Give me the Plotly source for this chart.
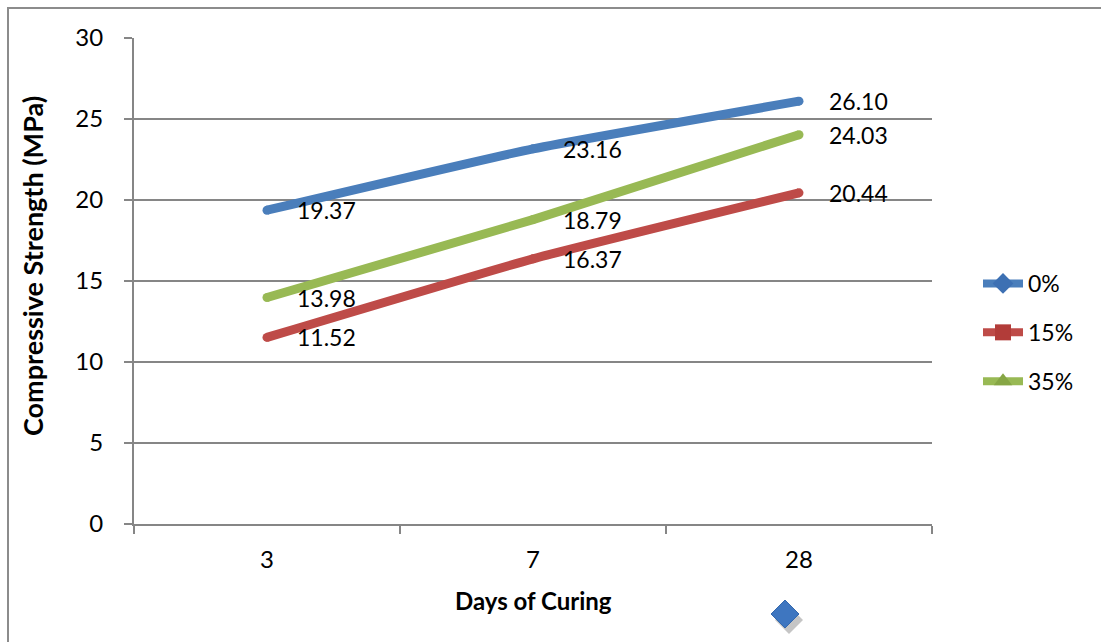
import plotly.graph_objects as go

# Curing ages (days) and compressive strength (MPa) per replacement level
days = ["3", "7", "28"]
series_names = ["0%", "15%", "35%"]
strength_0 = [19.37, 23.16, 26.10]
strength_15 = [11.52, 16.37, 20.44]
strength_35 = [13.98, 18.79, 24.03]
y_ticks = [0, 5, 10, 15, 20, 25, 30]

line_colors = ["#4A7EBB", "#BE4B48", "#98B954"]
marker_colors = ["#3D70B3", "#B23C39", "#86A645"]
symbols = ["diamond", "square", "triangle-up"]
all_series = [strength_0, strength_15, strength_35]

FONT = "Lato, 'Open Sans', sans-serif"
W, H = 1101, 642
M_L, M_R, M_T, M_B = 134, 169, 38, 118
PW, PH = W - M_L - M_R, H - M_T - M_B


def px_x(px):
    return (px - M_L) / PW


def px_y(py):
    return (H - M_B - py) / PH


fig = go.Figure()

for name, vals, lc in zip(series_names, all_series, line_colors):
    fig.add_trace(go.Scatter(
        x=days, y=vals, mode="lines+markers", name=name,
        line=dict(color=lc, width=9, shape="spline", smoothing=0.4),
        marker=dict(color=lc, size=9, symbol="circle"),
        showlegend=False, hoverinfo="skip",
    ))

# Legend entries: line with a series marker
for i, (name, lc, mc, sym) in enumerate(zip(series_names, line_colors, marker_colors, symbols)):
    fig.add_trace(go.Scatter(
        x=[None], y=[None], mode="lines+markers", name=name,
        legendgroup=f"g{i}",
        line=dict(color=lc, width=8),
        marker=dict(color=mc, size=16, symbol=sym),
    ))

# Value labels to the right of each point (category index positions)
annotations = []
for vals in all_series:
    for idx, v in enumerate(vals):
        annotations.append(dict(
            x=idx, y=v, xref="x", yref="y", text=f"{v:.2f}", showarrow=False,
            xanchor="left", yanchor="middle", xshift=28,
            font=dict(family=FONT, size=23, color="#000000"),
        ))

annotations.append(dict(
    x=px_x(533), y=px_y(600), xref="paper", yref="paper",
    text="<b>Days of Curing</b>", showarrow=False,
    xanchor="center", yanchor="middle",
    font=dict(family=FONT, size=24, color="#000000"),
))
annotations.append(dict(
    x=px_x(32), y=px_y(266), xref="paper", yref="paper",
    text="<b>Compressive Strength (MPa)</b>", showarrow=False, textangle=-90,
    xanchor="center", yanchor="middle",
    font=dict(family=FONT, size=27, color="#000000"),
))

# Outer chart frame and a stray diamond marker below the plot
shapes = [
    dict(type="rect", xref="paper", yref="paper",
         x0=px_x(8), y0=px_y(8), x1=px_x(1120), y1=px_y(660),
         line=dict(color="#8C8C8C", width=2), fillcolor="rgba(0,0,0,0)", layer="below"),
]
cx, cy, r = 785, 614, 14
sx, sy = 4, 6
shapes.append(dict(
    type="path", xref="paper", yref="paper",
    path=(f"M{px_x(cx + sx)},{px_y(cy + sy - r)} L{px_x(cx + sx + r)},{px_y(cy + sy)} "
          f"L{px_x(cx + sx)},{px_y(cy + sy + r)} L{px_x(cx + sx - r)},{px_y(cy + sy)} Z"),
    fillcolor="rgba(90,90,90,0.35)", line=dict(width=0),
))
shapes.append(dict(
    type="path", xref="paper", yref="paper",
    path=(f"M{px_x(cx)},{px_y(cy - r)} L{px_x(cx + r)},{px_y(cy)} "
          f"L{px_x(cx)},{px_y(cy + r)} L{px_x(cx - r)},{px_y(cy)} Z"),
    fillcolor="#3E76C0", line=dict(color="#3569AD", width=1),
))

fig.update_layout(
    width=W, height=H,
    margin=dict(l=M_L, r=M_R, t=M_T, b=M_B, pad=0),
    paper_bgcolor="#FFFFFF", plot_bgcolor="#FFFFFF",
    font=dict(family=FONT, size=23, color="#000000"),
    showlegend=True,
    legend=dict(
        x=px_x(978), y=px_y(262), xanchor="left", yanchor="top",
        font=dict(family=FONT, size=23, color="#000000"),
        tracegroupgap=16, traceorder="grouped",
        bgcolor="rgba(0,0,0,0)", itemwidth=40,
    ),
    xaxis=dict(
        type="category", categoryorder="array", categoryarray=days,
        range=[-0.5, 2.5], showgrid=False, zeroline=False,
        showline=True, linecolor="#868686", linewidth=2,
        ticks="outside", tickson="boundaries", ticklen=8, tickwidth=2,
        tickcolor="#868686", ticklabelstandoff=13,
        tickfont=dict(family=FONT, size=24, color="#000000"),
    ),
    yaxis=dict(
        range=[0, 30], tickvals=y_ticks, showgrid=True,
        gridcolor="#868686", gridwidth=2, zeroline=False,
        showline=True, linecolor="#868686", linewidth=2,
        ticks="outside", ticklen=8, tickwidth=2, tickcolor="#868686",
        ticklabelstandoff=16,
        tickfont=dict(family=FONT, size=24, color="#000000"),
    ),
    annotations=annotations,
    shapes=shapes,
)

fig.write_html("out.html")
